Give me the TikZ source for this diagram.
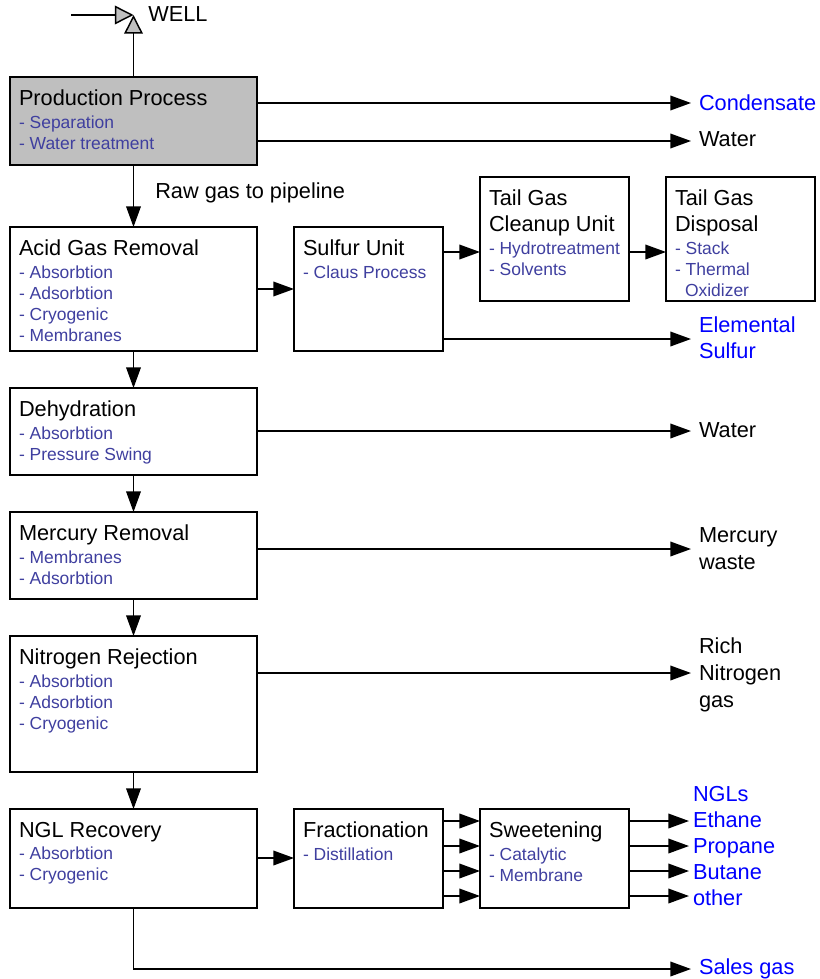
\documentclass[tikz,border=0pt]{standalone}
\usepackage{fontspec}
\setmainfont{Liberation Sans}
\usetikzlibrary{positioning,calc,arrows.meta}

\definecolor{boxgray}{HTML}{BFBFBF}
\definecolor{subblue}{HTML}{3F3F9F}
\definecolor{outblue}{HTML}{0000FF}

\newdimen\pxu
\pxu=0.75pt
\newcommand{\titlefont}{\fontsize{16.3}{19.5}\selectfont}
\newcommand{\subfont}{\vspace{1pt}\fontsize{13.1}{15.75}\selectfont\color{subblue}}
\newcommand{\procbody}[3]{\parbox[t][#2\pxu][t]{#1\pxu}{\raggedright\vspace*{3pt}#3}}

\begin{document}
\begin{tikzpicture}[
    x=0.75pt, y=-0.75pt,
    procbox/.style={draw, line width=1.1pt, anchor=north west, inner sep=6.75pt, outer sep=0pt},
    flow/.style={draw, line width=1.1pt, -{Triangle[length=15.5pt, width=11pt]}},
    welltip/.style={draw, line width=1.1pt, -{Triangle[length=14pt, width=14pt, fill=boxgray]}},
    outlabel/.style={anchor=west, align=left, inner sep=0pt, outer sep=6pt, font=\fontsize{16.3}{20.25}\selectfont},
    bluelabel/.style={outlabel, text=outblue},
    prodlabel/.style={bluelabel, outer sep=3pt},
    plainlabel/.style={anchor=west, inner sep=0pt, font=\fontsize{16.3}{19.5}\selectfont}
]
\useasboundingbox (0,0) rectangle (820,979);

% Process boxes
\node[procbox, fill=boxgray] (prod) at (10,77) {\procbody{229}{70}{{\titlefont Production Process\par}{\subfont - Separation\\- Water treatment\par}}};
\node[procbox] (acid) at (10,227) {\procbody{229}{106}{{\titlefont Acid Gas Removal\par}{\subfont - Absorbtion\\- Adsorbtion\\- Cryogenic\\- Membranes\par}}};
\node[procbox] (sulfur) at (294,227) {\procbody{131}{106}{{\titlefont Sulfur Unit\par}{\subfont - Claus Process\par}}};
\node[procbox] (cleanup) at (480,177) {\procbody{131}{106}{{\titlefont Tail Gas\\Cleanup Unit\par}{\subfont - Hydrotreatment\\- Solvents\par}}};
\node[procbox] (disposal) at (666,177) {\procbody{131}{106}{{\titlefont Tail Gas\\Disposal\par}{\subfont - Stack\\- Thermal\\\hspace*{7.5pt}Oxidizer\par}}};
\node[procbox] (dehy) at (10,388) {\procbody{229}{69}{{\titlefont Dehydration\par}{\subfont - Absorbtion\\- Pressure Swing\par}}};
\node[procbox] (mercury) at (10,512) {\procbody{229}{69}{{\titlefont Mercury Removal\par}{\subfont - Membranes\\- Adsorbtion\par}}};
\node[procbox] (nitrogen) at (10,636) {\procbody{229}{118}{{\titlefont Nitrogen Rejection\par}{\subfont - Absorbtion\\- Adsorbtion\\- Cryogenic\par}}};
\node[procbox] (ngl) at (10,809) {\procbody{229}{81}{{\titlefont NGL Recovery\par}{\subfont - Absorbtion\\- Cryogenic\par}}};
\node[procbox] (frac) at (294,809) {\procbody{131}{81}{{\titlefont Fractionation\par}{\subfont - Distillation\par}}};
\node[procbox] (sweet) at (480,809) {\procbody{131}{81}{{\titlefont Sweetening\par}{\subfont - Catalytic\\- Membrane\par}}};

% Output labels
\node[bluelabel] (condensate) at (691,103) {Condensate};
\node[outlabel] (water) at (691,139) {Water};
\node[bluelabel] (elemental) at (691,338) {Elemental\\[-0.75pt]Sulfur};
\node[outlabel] (dewater) at (691,430) {Water};
\node[outlabel] (hgwaste) at (691,549) {Mercury\\waste};
\node[outlabel] (richn) at (691,675) {Rich\\Nitrogen\\gas};
\node[prodlabel] (ngls) at (689,794) {NGLs};
\node[prodlabel] (ethane) at (689,820) {Ethane};
\node[prodlabel] (propane) at (689,848) {Propane};
\node[prodlabel] (butane) at (689,872) {Butane};
\node[prodlabel] (other) at (689,898) {other};
\node[bluelabel] (sales) at (691,969) {Sales gas};

% Other text
\node[plainlabel] (rawgas) at (155,193) {Raw gas to pipeline};
\node[plainlabel] (well) at (148,14) {WELL};

% Well head
\coordinate (wellin) at (71,15);
\coordinate (wellpt) at (133.5,15);
\draw[welltip] (wellin) -- (wellpt);
\draw[welltip] (prod.north) -- (wellpt);

% Main train
\draw[flow] (prod) -- (acid);
\draw[flow] (acid) -- (dehy);
\draw[flow] (dehy) -- (mercury);
\draw[flow] (mercury) -- (nitrogen);
\draw[flow] (nitrogen) -- (ngl);
\draw[flow] (ngl.south) |- (sales.west);

% Side streams
\draw[flow] (prod.east |- condensate.west) -- (condensate.west);
\draw[flow] (prod.east |- 0,141) -- (water.west |- 0,141);
\draw[flow] (acid.east |- 0,289) -- (sulfur.west |- 0,289);
\draw[flow] (sulfur.east |- 0,252) -- (cleanup.west |- 0,252);
\draw[flow] (cleanup.east |- 0,252) -- (disposal.west |- 0,252);
\draw[flow] (sulfur.east |- 0,339) -- (elemental.west |- 0,339);
\draw[flow] (dehy.east |- 0,431) -- (dewater.west |- 0,431);
\draw[flow] (mercury.east |- hgwaste.west) -- (hgwaste.west);
\draw[flow] (nitrogen.east |- 0,673) -- (richn.west |- 0,673);
\draw[flow] (ngl.east |- 0,858) -- (frac.west |- 0,858);

% Fractionation to sweetening and products
\foreach \yy/\prodname in {821/ethane, 846/propane, 871/butane, 896/other} {
    \draw[flow] (frac.east |- 0,\yy) -- (sweet.west |- 0,\yy);
    \draw[flow] (sweet.east |- 0,\yy) -- (\prodname.west |- 0,\yy);
}

\end{tikzpicture}
\end{document}
